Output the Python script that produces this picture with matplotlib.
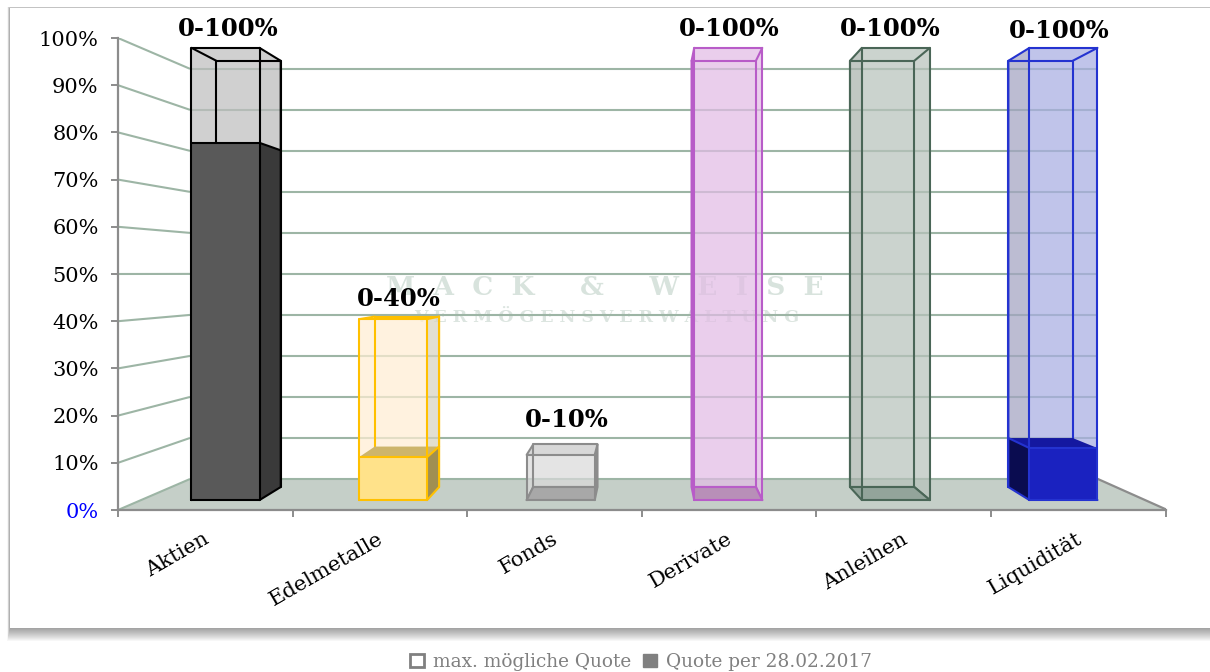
import matplotlib
matplotlib.use("Agg")
import matplotlib.pyplot as plt
from matplotlib.colors import to_rgb
from matplotlib.patches import Polygon, Rectangle, Patch

# ---- data ----
categories = ["Aktien", "Edelmetalle", "Fonds", "Derivate", "Anleihen", "Liquidität"]
max_quote = [100, 40, 10, 100, 100, 100]
current_quote = [79, 9.5, 0, 0, 0, 11.5]
range_labels = ["0-100%", "0-40%", "0-10%", "0-100%", "0-100%", "0-100%"]
y_ticks = [0, 10, 20, 30, 40, 50, 60, 70, 80, 90, 100]
legend_labels = ["max. mögliche Quote", "Quote per 28.02.2017"]

# ---- styles ----
edge_colors = ["#000000", "#FFC000", "#8C8C8C", "#B85CC8", "#4A6657", "#2433D0"]
empty_front = ["#D0D0D0", "#FFF3DF", "#E4E4E4", "#EACFEC", "#CBD3CE", "#C0C5EA"]
empty_side = ["#CDCDCD", "#E2DFD0", "#DEDEDE", "#EACFEC", "#C2C8C4", "#BCBDD2"]
floor_face = ["#595959", "#FFE28A", "#A8A8A8", "#B88FB8", "#93A49B", "#1A22C0"]
solid_front = ["#595959", "#FFE28A", "#A8A8A8", "#B88FB8", "#93A49B", "#1A22C0"]
solid_side = ["#3A3A3A", "#A08F52", "#A8A8A8", "#B88FB8", "#93A49B", "#0A0C50"]
solid_top = ["#595959", "#CDB56B", "#A8A8A8", "#B88FB8", "#93A49B", "#1418A0"]
label_dx = [3, 6, 6, 1, -6, -4]
label_dy = [19, 20, 35, 19, 19, 17]

GRID = "#9DB5A5"
FLOOR = "#C5CFC8"
AXIS = "#8C8C8C"
SERIF = "DejaVu Serif"
ALPHA = 0.72

# pseudo-3D geometry, in units of the front plane
DEPTH_FRONT, DEPTH_BACK = 0.32, 0.74
BAR_L, BAR_R = 0.312, 0.718
SHIFT_X0, SHIFT_X1 = 0.379, -0.1254
SHRINK_Y, LIFT_Y = 0.131, 6.57
WALL_L, WALL_R = 0.4124, 5.612


def project(c, v, d):
    return (c + d * (SHIFT_X0 + SHIFT_X1 * c), v * (1 - SHRINK_Y * d) + LIFT_Y * d)


def wall(v, c):
    return (c, v * (1 - SHRINK_Y) + LIFT_Y)


def see_through(color):
    r = to_rgb(color)
    return tuple(max(0, (x - (1 - ALPHA)) / ALPHA) for x in r) + (ALPHA,)


fig = plt.figure(figsize=(12.10, 6.72), dpi=100, facecolor="white")

# card with soft shadow
bg = fig.add_axes([0, 0, 1, 1], zorder=-1)
bg.set_xlim(0, 1210)
bg.set_ylim(672, 0)
bg.axis("off")
for i in range(13, 0, -1):
    bg.add_patch(Rectangle((10 - i * 0.2, 8 - i * 0.1), 1300, 620 + i * 1.1,
                           fc="black", ec="none", alpha=0.03))
bg.add_patch(Rectangle((10, 8), 1300, 620, fc="white", ec="none"))

ax = fig.add_axes([118 / 1210, (672 - 510) / 672, 1047.6 / 1210, 472 / 672])
ax.patch.set_alpha(0)
ax.set_xlim(0, 6)
ax.set_ylim(0, 100)
for s in ("top", "right"):
    ax.spines[s].set_visible(False)
for s in ("left", "bottom"):
    ax.spines[s].set_color(AXIS)
    ax.spines[s].set_linewidth(1.6)
    ax.spines[s].set_zorder(3)

ax.set_yticks(y_ticks, [f"{t}%" for t in y_ticks], fontfamily=SERIF, fontsize=15, color="black")
ax.get_yticklabels()[0].set_color("#0000FF")
ax.tick_params(axis="y", length=5, width=1.4, color=AXIS, pad=9)
ax.set_xticks(range(7), [""] * 7)
ax.tick_params(axis="x", which="major", length=5, width=1.4, color=AXIS)
ax.set_xticks([i + 0.485 for i in range(6)], categories, minor=True, rotation=30, ha="right",
              rotation_mode="anchor", fontfamily=SERIF, fontsize=15.2, color="black")
ax.tick_params(axis="x", which="minor", length=0, pad=14)

# watermark
ax.text(2.79, 47.2, "M  A  C  K     &     W  E  I  S  E", ha="center", va="center", family=SERIF,
        fontweight="bold", fontsize=19, color="#D8E3DD", zorder=0.5)
ax.text(2.80, 40.7, "V E R M Ö G E N S V E R W A L T U N G", ha="center", va="center", family=SERIF,
        fontweight="bold", fontsize=12.5, color="#DCE5E0", zorder=0.5)

# floor and walls
ax.add_patch(Polygon([(0, 0), wall(0, WALL_L), wall(0, WALL_R), (6.01, 0)], fc=FLOOR, ec="none",
                     zorder=1, clip_on=False))
for t in y_ticks:
    ax.plot([0, wall(t, WALL_L)[0]], [t, wall(t, WALL_L)[1]], color=GRID, lw=1.5, zorder=1.2,
            solid_capstyle="butt")
    ax.plot([WALL_L, WALL_R], [wall(t, WALL_L)[1]] * 2, color=GRID, lw=1.5, zorder=1.2,
            solid_capstyle="butt")
ax.plot([wall(0, WALL_R)[0], 6.01], [wall(0, WALL_R)[1], 0], color=AXIS, lw=1.6, zorder=1.3)


def quad(pts, color, z, alpha=True):
    fc = see_through(color) if alpha else color
    ax.add_patch(Polygon(pts, fc=fc, ec="none", zorder=z, clip_on=False))


def outline(pts, color, z=3, lw=1.5):
    xs, ys = zip(*pts)
    ax.plot(xs, ys, color=color, lw=lw, zorder=z, clip_on=False, solid_capstyle="round")


F, B = DEPTH_FRONT, DEPTH_BACK
Z_EMPTY, Z_BACK, Z_SOLID, Z_FRONT = 2.0, 2.1, 2.2, 3.0

for i, name in enumerate(categories):
    l, r = i + BAR_L, i + BAR_R
    top = max_quote[i]
    val = current_quote[i]
    e = edge_colors[i]
    right_side = project(r, 0, B)[0] - project(r, 0, F)[0] > project(l, 0, F)[0] - project(l, 0, B)[0]
    sc = r if right_side else l
    hc = l if right_side else r

    # see-through faces
    quad([project(l, 0, F), project(r, 0, F), project(r, top, F), project(l, top, F)], empty_front[i], Z_EMPTY)
    quad([project(sc, 0, F), project(sc, 0, B), project(sc, top, B), project(sc, top, F)], empty_side[i], Z_EMPTY)
    # the top face shows only where the back edge rises above the front edge
    if project(l, top, B)[1] > project(l, top, F)[1]:
        quad([project(l, top, F), project(r, top, F), project(r, top, B), project(l, top, B)],
             "#D8D8D8" if top <= 10 else empty_front[i], Z_EMPTY)

    # back wire frame, covered by the solid part
    outline([project(l, 0, B), project(r, 0, B), project(r, top, B), project(l, top, B), project(l, 0, B)], e, Z_BACK)
    outline([project(l, top, F), project(l, top, B)], e, Z_BACK)
    outline([project(r, top, F), project(r, top, B)], e, Z_BACK)
    outline([project(hc, 0, F), project(hc, 0, B)], e, Z_BACK)

    if val > 0:
        if project(l, val, B)[1] > project(l, val, F)[1]:
            quad([project(l, val, F), project(r, val, F), project(r, val, B), project(l, val, B)],
                 solid_top[i], Z_SOLID, False)
        quad([project(l, 0, F), project(r, 0, F), project(r, val, F), project(l, val, F)],
             solid_front[i], Z_SOLID + 0.01, False)
        quad([project(sc, 0, F), project(sc, 0, B), project(sc, val, B), project(sc, val, F)],
             solid_side[i], Z_SOLID + 0.01, False)
        outline([project(l, val, F), project(r, val, F)], e, Z_FRONT)
        outline([project(sc, val, F), project(sc, val, B)], e, Z_FRONT)
    else:
        quad([project(l, 0, F), project(r, 0, F), project(r, 0, B), project(l, 0, B)], floor_face[i], Z_SOLID, False)

    # wire frame on top
    outline([project(l, 0, F), project(r, 0, F), project(r, top, F), project(l, top, F), project(l, 0, F)], e, Z_FRONT)
    outline([project(sc, 0, F), project(sc, 0, B), project(sc, top, B)], e, Z_FRONT)
    if val <= 0:
        outline([project(l, 0, B), project(r, 0, B)], e, Z_FRONT)
        outline([project(hc, 0, F), project(hc, 0, B)], e, Z_FRONT)

    # range label
    ax.annotate(range_labels[i], xy=project(i + (BAR_L + BAR_R) / 2, top, F),
                xytext=(label_dx[i], label_dy[i]), textcoords="offset pixels",
                ha="center", va="center", family=SERIF, fontweight="bold", fontsize=17.5,
                color="black", zorder=5, annotation_clip=False)

handles = [Patch(fc="white", ec="#808080", lw=2), Patch(fc="#808080", ec="#808080")]
fig.legend(handles, legend_labels, ncol=2, loc="center", bbox_to_anchor=(641 / 1210, (672 - 662) / 672),
           frameon=False, prop={"family": SERIF, "size": 13.3}, labelcolor="#808080",
           handlelength=0.75, handleheight=0.75, handletextpad=0.5, columnspacing=0.6, borderpad=0)

fig.savefig("out.png", dpi=100, facecolor="white")
